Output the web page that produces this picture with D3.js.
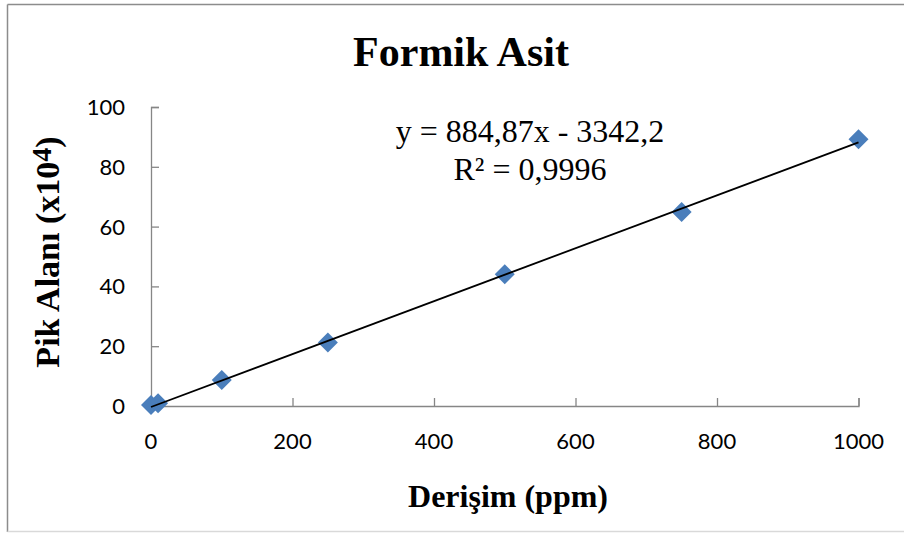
<!DOCTYPE html>
<html lang="tr">
<head>
    <meta charset="utf-8">
    <title>Formik Asit</title>
    <script src="https://d3js.org/d3.v7.min.js"></script>
    <style>
        body { margin: 0; background: #fff; }
    </style>
</head>
<body>
  <svg width="904" height="533"></svg>
    <script>
        // data
        const concentration = [0, 10, 100, 250, 500, 750, 1000];
        const peakArea = [0.3, 0.9, 8.7, 21.2, 44.1, 64.9, 89.2];
        const xTicks = [0, 200, 400, 600, 800, 1000];
        const yTicks = [0, 20, 40, 60, 80, 100];
        const slope = 884.87, intercept = -3342.2;   // raw trend (area = slope*x + intercept)
        const equation = ["y = 884,87x - 3342,2", "R² = 0,9996"];

        const svg = d3.select("svg");
        const x = d3.scaleLinear().domain([0, 1000]).range([151, 858.5]);
        const y = d3.scaleLinear().domain([0, 100]).range([406, 107]);

        // chart frame
        svg.append("line").attr("x1", 7.5).attr("y1", 4.5).attr("x2", 904).attr("y2", 4.5)
           .attr("stroke", "#8c8c8c").attr("stroke-width", 1.5);
        svg.append("line").attr("x1", 7.5).attr("y1", 4.5).attr("x2", 7.5).attr("y2", 532)
           .attr("stroke", "#8c8c8c").attr("stroke-width", 1.5);
        svg.append("line").attr("x1", 7.5).attr("y1", 531.5).attr("x2", 904).attr("y2", 531.5)
           .attr("stroke", "#d9d9d9").attr("stroke-width", 1.5);

        const axisColor = "#868686";

        // x axis (ticks pointing up into the plot)
        const gx = svg.append("g").attr("transform", `translate(0,${y(0)})`)
           .call(d3.axisTop(x).tickValues(xTicks).tickSize(8).tickFormat(""));
        gx.selectAll("path,line").attr("stroke", axisColor).attr("stroke-width", 1.3);
        svg.selectAll(".xlab").data(xTicks).enter().append("text")
           .attr("x", d => x(d)).attr("y", 449)
           .attr("text-anchor", "middle")
           .style("font", "22px Lato, 'Open Sans', sans-serif")
           .text(d => d);

        // y axis (ticks pointing right into the plot)
        const gy = svg.append("g").attr("transform", `translate(${x(0)},0)`)
           .call(d3.axisRight(y).tickValues(yTicks).tickSize(8).tickFormat(""));
        gy.selectAll("path,line").attr("stroke", axisColor).attr("stroke-width", 1.3);
        svg.selectAll(".ylab").data(yTicks).enter().append("text")
           .attr("x", 125).attr("y", d => y(d) + 8)
           .attr("text-anchor", "end")
           .style("font", "22px Lato, 'Open Sans', sans-serif")
           .text(d => d);

        // diamond markers
        svg.selectAll(".pt").data(concentration).enter().append("path")
           .attr("transform", (d, i) => `translate(${x(d)},${y(peakArea[i])}) rotate(45)`)
           .attr("d", d3.symbol().type(d3.symbolSquare).size(200))
           .attr("fill", "#4a7ebb");

        // linear trend line, drawn over the markers
        const trend = d => (slope * d + intercept) / 10000;
        svg.append("line")
           .attr("x1", x(0)).attr("y1", y(trend(0)))
           .attr("x2", x(1000)).attr("y2", y(trend(1000)))
           .attr("stroke", "#000").attr("stroke-width", 1.8);

        // equation
        svg.selectAll(".eq").data(equation).enter().append("text")
           .attr("x", 530).attr("y", (d, i) => 142 + i * 38)
           .attr("text-anchor", "middle")
           .style("font", "32px 'Liberation Serif', 'Times New Roman', serif")
           .text(d => d);

        // title
        svg.append("text").attr("x", 461).attr("y", 66).attr("text-anchor", "middle")
           .style("font", "bold 42px 'Liberation Serif', 'Times New Roman', serif")
           .text("Formik Asit");

        // axis titles
        svg.append("text").attr("x", 508).attr("y", 507).attr("text-anchor", "middle")
           .style("font", "bold 32px 'Liberation Serif', 'Times New Roman', serif")
           .text("Derişim (ppm)");

        const yt = svg.append("text")
           .attr("transform", "translate(59,252) rotate(-90)")
           .attr("text-anchor", "middle")
           .style("font", "bold 34px 'Liberation Serif', 'Times New Roman', serif");
        yt.append("tspan").text("Pik Alanı (x10");
        yt.append("tspan").attr("dy", -8).style("font-size", "28px").text("4");
        yt.append("tspan").attr("dy", 8).text(")");
    </script>
</body>
</html>
